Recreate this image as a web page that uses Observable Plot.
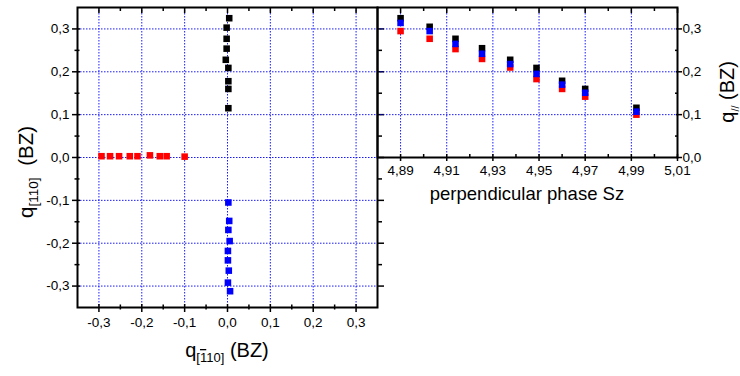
<!DOCTYPE html>
<html><head><meta charset="utf-8">
<script src="https://cdn.jsdelivr.net/npm/d3@7"></script>
<script src="https://cdn.jsdelivr.net/npm/@observablehq/plot@0.6"></script>
<style>
html,body{margin:0;padding:0;background:#fff;}
#chart{position:relative;width:740px;height:376px;overflow:hidden;background:#fff;}
#chart svg{position:absolute;top:0;}
</style></head><body><div id="chart"></div>
<script>
// ---- data: right panel (q// vs perpendicular phase Sz) ----
const sz     = [4.890, 4.9026, 4.9138, 4.9253, 4.9375, 4.9489, 4.9600, 4.9700, 4.9922];
const qBlack = [0.325, 0.305, 0.277, 0.255, 0.228, 0.209, 0.179, 0.160, 0.116];
const qBlue  = [0.314, 0.295, 0.265, 0.242, 0.218, 0.195, 0.170, 0.151, 0.107];
const qRed   = [0.295, 0.277, 0.253, 0.230, 0.210, 0.183, 0.160, 0.142, 0.100];

// ---- data: left panel (q[1-10] vs q[110]) ----
const blackX = [0.004, -0.002, -0.002, -0.002, -0.004, 0.002, 0.002, 0.002, 0.002];
const blackY = [0.325, 0.303, 0.277, 0.254, 0.228, 0.209, 0.178, 0.160, 0.115];
const redX   = [-0.294, -0.274, -0.253, -0.228, -0.210, -0.181, -0.158, -0.142, -0.100];
const redY   = [0.003, 0.003, 0.003, 0.003, 0.003, 0.005, 0.003, 0.003, 0.002];
const blueX  = [0.002, 0.004, 0.002, 0.005, 0.001, 0.001, 0.003, 0.001, 0.006];
const blueY  = [-0.105, -0.148, -0.169, -0.195, -0.218, -0.240, -0.264, -0.292, -0.312];

// ---- ticks ----
const leftMajor = [-0.3, -0.2, -0.1, 0, 0.1, 0.2, 0.3];
const leftMinor = [-0.25, -0.15, -0.05, 0.05, 0.15, 0.25];
const szMajor = [4.89, 4.91, 4.93, 4.95, 4.97, 4.99, 5.01];
const szMinor = [4.90, 4.92, 4.94, 4.96, 4.98, 5.00];
const szGrid = [4.89, 4.91, 4.93, 4.95, 4.97, 4.99];
const qMajor = [0, 0.1, 0.2, 0.3];
const qMinor = [0.05, 0.15, 0.25];
const qGrid = [0.1, 0.2, 0.3];

const font = "'Liberation Sans', Arial, Helvetica, sans-serif";
const gridStyle = {stroke: "#0000ff", strokeOpacity: 0.9, strokeWidth: 1, strokeDasharray: "1.5,1.5"};
const fmt1 = d => d.toFixed(1).replace(".", ",");
const fmt2 = d => d.toFixed(2).replace(".", ",");
const blank = {fill: "none", label: null, tickFormat: () => ""};
const tk = {stroke: "black", strokeWidth: 1.5, label: null, fontSize: 13.5};
const sq = {symbol: "square", r: 3.7, stroke: "none"};

const leftData = [
  ...blackX.map((x, i) => ({x, y: blackY[i], c: "black"})),
  ...redX.map((x, i) => ({x, y: redY[i], c: "red"})),
  ...blueX.map((x, i) => ({x, y: blueY[i], c: "blue"}))
];
const rightData = [
  ...sz.map((s, i) => ({s, q: qBlack[i], c: "black"})),
  ...sz.map((s, i) => ({s, q: qRed[i], c: "red"})),
  ...sz.map((s, i) => ({s, q: qBlue[i], c: "blue"}))
];
const colorOf = {black: "#000000", red: "#ff0000", blue: "#0000ff"};

const left = Plot.plot({
  width: 380, height: 376,
  marginLeft: 77, marginRight: 3, marginTop: 7, marginBottom: 69,
  style: {background: "transparent", fontFamily: font, fontSize: "13.5px", color: "black", overflow: "visible"},
  x: {domain: [-0.35, 0.35], label: null},
  y: {domain: [-0.35, 0.35], label: null},
  marks: [
    Plot.gridX(leftMajor, gridStyle),
    Plot.gridY(leftMajor, gridStyle),
    Plot.dot(leftData, {x: "x", y: "y", fill: d => colorOf[d.c], ...sq}),
    Plot.frame({stroke: "black", strokeWidth: 2}),
    // left axis
    Plot.axisY(leftMajor, {...tk, anchor: "left", tickSize: 8, dx: 3, tickPadding: 3, tickFormat: fmt1}),
    Plot.axisY(leftMinor, {...tk, ...blank, anchor: "left", tickSize: 5, dx: 2.5}),
    // right edge
    Plot.axisY(leftMajor, {...tk, ...blank, anchor: "right", tickSize: 6}),
    Plot.axisY(leftMinor, {...tk, ...blank, anchor: "right", tickSize: 4}),
    // bottom axis
    Plot.axisX(leftMajor, {...tk, anchor: "bottom", tickSize: 8, dy: -3, tickPadding: 5, tickFormat: fmt1}),
    Plot.axisX(leftMinor, {...tk, ...blank, anchor: "bottom", tickSize: 5, dy: -2.5}),
    // top edge (inward)
    Plot.axisX(leftMajor, {...tk, ...blank, anchor: "top", tickSize: 5, dy: 5}),
    Plot.axisX(leftMinor, {...tk, ...blank, anchor: "top", tickSize: 3, dy: 3})
  ]
});
left.style.left = "0px";

const right = Plot.plot({
  width: 370, height: 376,
  marginLeft: 7, marginRight: 63, marginTop: 7, marginBottom: 219,
  style: {background: "transparent", fontFamily: font, fontSize: "13.5px", color: "black", overflow: "visible"},
  x: {domain: [4.88, 5.01], label: null},
  y: {domain: [0, 0.35], label: null},
  marks: [
    Plot.gridX(szGrid, gridStyle),
    Plot.gridY(qGrid, gridStyle),
    Plot.dot(rightData, {x: "s", y: "q", fill: d => colorOf[d.c], ...sq}),
    Plot.frame({stroke: "black", strokeWidth: 2}),
    // bottom axis
    Plot.axisX(szMajor, {...tk, anchor: "bottom", tickSize: 7, dy: -3, tickPadding: 4, tickFormat: fmt2}),
    Plot.axisX(szMinor, {...tk, ...blank, anchor: "bottom", tickSize: 3, dy: -3}),
    // top edge (inward)
    Plot.axisX(szMajor, {...tk, ...blank, anchor: "top", tickSize: 5, dy: 5}),
    Plot.axisX(szMinor, {...tk, ...blank, anchor: "top", tickSize: 3, dy: 3}),
    // right axis
    Plot.axisY(qMajor, {...tk, anchor: "right", tickSize: 6, dx: -2, tickPadding: 1, tickFormat: fmt1}),
    Plot.axisY(qMinor, {...tk, ...blank, anchor: "right", tickSize: 3, dx: -3})
  ]
});
right.style.left = "370px";

const chart = document.getElementById("chart");
chart.appendChild(left);
chart.appendChild(right);

// ---- axis titles (with subscripts) ----
const ov = d3.select("#chart").append("svg")
  .attr("width", 740).attr("height", 376)
  .style("position", "absolute").style("left", "0px").style("top", "0px")
  .style("font-family", font).style("white-space", "pre");

// left y title: q[110] (BZ)
const ly = ov.append("text").attr("transform", "translate(33,126) rotate(-90)")
  .attr("text-anchor", "end").attr("font-size", 20.5).attr("fill", "black");
ly.append("tspan").text("q");
ly.append("tspan").attr("font-size", 13.5).attr("dy", 5).text("[110]");
ly.append("tspan").attr("dy", -5).attr("dx", 6).text(" (BZ)");

// left x title: q[-110] (BZ)
const lx = ov.append("text").attr("x", 227).attr("y", 357)
  .attr("text-anchor", "middle").attr("font-size", 20).attr("fill", "black");
lx.append("tspan").text("q");
const sub = lx.append("tspan").attr("font-size", 13).attr("dy", 5);
sub.append("tspan").text("[");
sub.append("tspan").style("text-decoration", "overline").text("1");
sub.append("tspan").text("10]");
lx.append("tspan").attr("dy", -5).text(" (BZ)");

// right x title
ov.append("text").attr("x", 527).attr("y", 200).attr("text-anchor", "middle")
  .attr("font-size", 18.5).attr("fill", "black").text("perpendicular phase Sz");

// right y title: q// (BZ)
const ry = ov.append("text").attr("transform", "translate(734,61) rotate(-90)")
  .attr("text-anchor", "end").attr("font-size", 20).attr("fill", "black");
ry.append("tspan").text("q");
ry.append("tspan").attr("font-size", 11).attr("dy", 5).text("//");
ry.append("tspan").attr("dy", -5).text(" (BZ)");
</script></body></html>
